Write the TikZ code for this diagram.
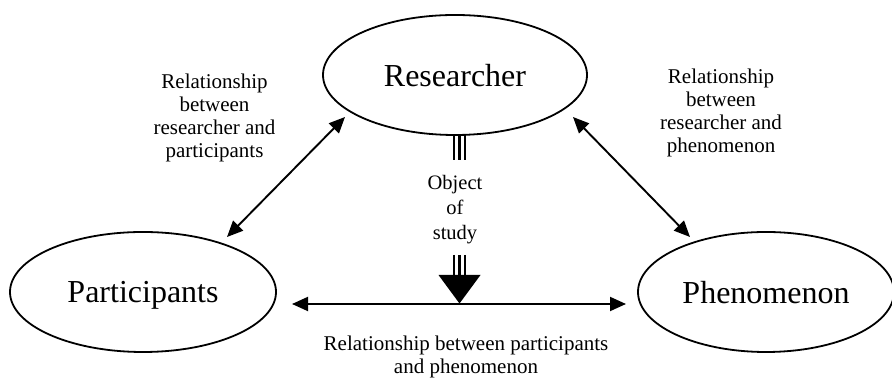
\documentclass[tikz,border=0pt]{standalone}
\usepackage{fontspec}
\setmainfont{Liberation Serif}
\usetikzlibrary{shapes.geometric,arrows.meta}
\tikzset{
  big/.style={draw, ellipse, line width=1.8pt, inner sep=0pt, text depth=0pt,
    font=\fontsize{32}{34}\selectfont},
  lbl/.style={align=center, anchor=north, inner sep=0pt,
    font=\fontsize{21}{23}\selectfont},
  objlbl/.style={align=center, anchor=north, inner sep=0pt,
    font=\fontsize{20.5}{25}\selectfont},
  dbl/.style={line width=1.9pt, {Triangle[length=16pt,width=14pt]}-{Triangle[length=16pt,width=14pt]}},
  triple/.style={line width=2.6pt},
}
\begin{document}
\begin{tikzpicture}[x=1pt,y=1pt]
\useasboundingbox (0,0) rectangle (892,387);
% ellipses
\node[big, minimum width=264pt, minimum height=120pt] (res) at (455,312) {Researcher};
\node[big, minimum width=266pt, minimum height=120pt] (par) at (143,95) {Participants};
\node[big, minimum width=256pt, minimum height=120pt] (phe) at (766,95) {Phenomenon};
% arrow ends
\coordinate (a1) at (345,270);
\coordinate (a2) at (227,150);
\coordinate (b1) at (573,270);
\coordinate (b2) at (690,150);
\coordinate (c1) at (292,83);
\coordinate (c2) at (626,83);
\draw[dbl] (a1) -- (a2);
\draw[dbl] (b1) -- (b2);
\draw[dbl] (c1) -- (c2);
% object of study
\coordinate (o1) at (459.5,252);
\coordinate (o2) at (459.5,227);
\coordinate (o3) at (459.5,132);
\coordinate (o4) at (459.5,112);
\coordinate (otip) at (459.5,83.5);
\foreach \dx in {-5.5,0,5.5} {
  \draw[triple] ([xshift=\dx pt]o1) -- ([xshift=\dx pt]o2);
  \draw[triple] ([xshift=\dx pt]o3) -- ([xshift=\dx pt]o4);
}
\fill ([xshift=-21pt]o4) -- ([xshift=21pt]o4) -- (otip) -- cycle;
% labels
\node[lbl] (l1) at (214.5,313.5) {Relationship\\between\\researcher and\\participants};
\node[lbl] (l2) at (721,318.5) {Relationship\\between\\researcher and\\phenomenon};
\node[objlbl] (l3) at (455,212) {Object\\of\\study};
\node[lbl] (l4) at (466,51.5) {Relationship between participants\\and phenomenon};
\end{tikzpicture}
\end{document}
